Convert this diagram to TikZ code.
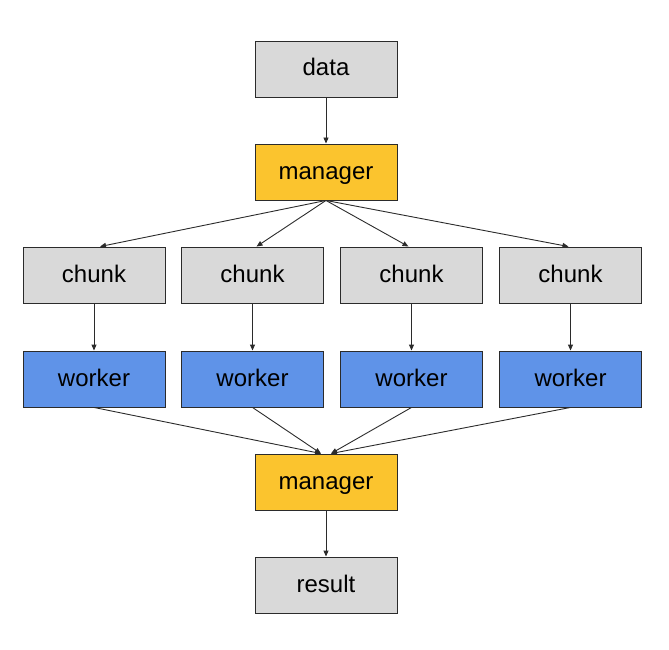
\documentclass[tikz,border=0pt]{standalone}
\usepackage{fontspec}
\setmainfont{Liberation Sans}
\usetikzlibrary{arrows.meta}
\definecolor{boxgray}{HTML}{D9D9D9}
\definecolor{mgryellow}{HTML}{FBC42E}
\definecolor{wrkblue}{HTML}{5F93E8}
\definecolor{edgecol}{HTML}{2B2B2B}
\begin{document}
\begin{tikzpicture}[x=1pt,y=-1pt,
  box/.style={draw=edgecol,line width=0.9pt,minimum width=142pt,minimum height=56pt,inner sep=0pt,text height=17pt,text depth=3pt,font=\fontsize{24}{28}\selectfont,text=black},
  graybox/.style={box,fill=boxgray},
  mgrbox/.style={box,fill=mgryellow},
  wrkbox/.style={box,fill=wrkblue},
  conn/.style={draw=edgecol,line width=0.9pt,-{Triangle[length=6pt,width=5pt]}}]
\useasboundingbox (0,0) rectangle (669,650);
\node[graybox] (data) at (326,69) {data};
\node[mgrbox] (mgr1) at (326,172) {manager};
\foreach \i/\x in {1/94,2/252.5,3/411.5,4/570.5}{
  \node[graybox] (c\i) at (\x,275) {chunk};
  \node[wrkbox] (w\i) at (\x,379) {worker};
}
\node[mgrbox] (mgr2) at (326,482) {manager};
\node[graybox] (res) at (326,585) {result};
\draw[conn] (data) -- (mgr1);
\draw[conn] (mgr1.south) -- ([xshift=6pt]c1.north);
\draw[conn] (mgr1.south) -- ([xshift=4pt]c2.north);
\draw[conn] (mgr1.south) -- ([xshift=-3pt]c3.north);
\draw[conn] (mgr1.south) -- ([xshift=-2pt]c4.north);
\foreach \i in {1,2,3,4}{\draw[conn] (c\i) -- (w\i);}
\draw[conn] (w1.south) -- ([xshift=-5pt]mgr2.north);
\draw[conn] (w2.south) -- ([xshift=-5pt]mgr2.north);
\draw[conn] (w3.south) -- ([xshift=5pt]mgr2.north);
\draw[conn] (w4.south) -- ([xshift=5pt]mgr2.north);
\draw[conn] (mgr2) -- (res);
\end{tikzpicture}
\end{document}
